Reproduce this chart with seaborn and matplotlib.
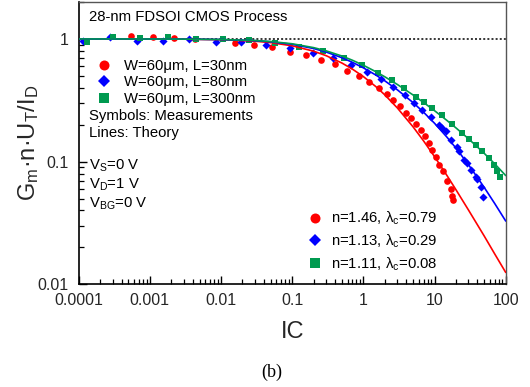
import numpy as np
import pandas as pd
import matplotlib
matplotlib.use("Agg")
import matplotlib.pyplot as plt
from matplotlib.lines import Line2D
from matplotlib.ticker import FixedLocator, FixedFormatter, LogLocator, NullFormatter
import seaborn as sns

# ---- measured normalized transconductance efficiency vs inversion coefficient ----
red_ic = [5.47e-4, 1.11e-3, 2.20e-3, 4.31e-3, 0.0157, 0.0290, 0.0527, 0.0928, 0.155, 0.256,
          0.398, 0.593, 0.868, 1.20, 1.66, 2.13, 2.64, 3.27, 3.93, 4.62, 5.43, 6.39, 7.27,
          8.36, 9.33, 10.4, 11.6, 13.0, 15.2, 16.9, 17.8, 18.2]
red_gm = [1.064, 1.038, 1.013, 0.994, 0.933, 0.888, 0.852, 0.788, 0.741, 0.674,
          0.622, 0.552, 0.501, 0.446, 0.396, 0.354, 0.318, 0.282, 0.249, 0.226, 0.202, 0.181, 0.163,
          0.141, 0.125, 0.110, 0.094, 0.084, 0.070, 0.060, 0.0525, 0.0487]

blue_ic = [1.16e-4, 2.75e-4, 6.68e-4, 1.55e-3, 3.59e-3, 8.41e-3, 0.0192, 0.0434, 0.0931, 0.194,
           0.379, 0.674, 1.14, 1.78, 2.62, 3.81, 5.14, 6.75, 8.83, 11.6, 12.9, 14.3, 16.9,
           20.5, 22.1, 25.9, 29.0, 32.2, 37.9, 39.1, 44.5, 48.6]
blue_gm = [0.963, 1.032, 0.969, 0.969, 1.000, 0.951, 0.949, 0.899, 0.840, 0.773,
           0.700, 0.615, 0.540, 0.474, 0.406, 0.350, 0.299, 0.264, 0.233, 0.199, 0.187, 0.176, 0.149,
           0.131, 0.121, 0.103, 0.097, 0.086, 0.0755, 0.0719, 0.0619, 0.0518]

green_ic = [1.31e-4, 3.00e-4, 7.27e-4, 1.80e-3, 4.41e-3, 0.0107, 0.0247, 0.0573, 0.125, 0.273,
            0.534, 0.969, 1.62, 2.50, 3.72, 5.43, 7.11, 9.33, 12.9, 17.8, 24.6, 30.5, 37.9,
            47.0, 58.2, 68.5, 75.9, 83.1]
green_gm = [0.951, 1.032, 1.023, 1.032, 1.000, 1.000, 0.978, 0.923, 0.856, 0.791,
            0.695, 0.610, 0.525, 0.459, 0.398, 0.334, 0.305, 0.272, 0.240, 0.203, 0.170, 0.152, 0.137,
            0.123, 0.107, 0.094, 0.084, 0.0746]

# ---- theory curves ----
theory_ic = [0.0001, 0.001, 0.003, 0.01, 0.03, 0.05, 0.1, 0.2, 0.3, 0.5, 0.7, 1, 1.5, 2, 3, 5,
             7, 10, 15, 20, 30, 50, 70, 100]
theory_red = [0.9998, 0.9985, 0.9955, 0.9852, 0.9580, 0.9331, 0.8789, 0.7946, 0.7304, 0.6360,
              0.5680, 0.4933, 0.4084, 0.3502, 0.2740, 0.1919, 0.1478, 0.1098, 0.0768, 0.0590,
              0.0403, 0.0247, 0.0177, 0.0125]
theory_blue = [0.9999, 0.9988, 0.9965, 0.9886, 0.9673, 0.9476, 0.9042, 0.8354, 0.7821, 0.7029,
               0.6452, 0.5813, 0.5074, 0.4556, 0.3850, 0.3025, 0.2530, 0.2054, 0.1579, 0.1289,
               0.0944, 0.0615, 0.0456, 0.0328]
theory_green = [0.9999, 0.9989, 0.9968, 0.9898, 0.9706, 0.9527, 0.9131, 0.8495, 0.7998, 0.7253,
                0.6707, 0.6101, 0.5403, 0.4915, 0.4255, 0.3491, 0.3037, 0.2601, 0.2161, 0.1883,
                0.1536, 0.1167, 0.0960, 0.0770]

device_labels = ["W=60\u03bcm, L=30nm", "W=60\u03bcm, L=80nm", "W=60\u03bcm, L=300nm"]
model_labels = ["n=1.46, \u03bb$_\\mathregular{c}$=0.79",
                "n=1.13, \u03bb$_\\mathregular{c}$=0.29",
                "n=1.11, \u03bb$_\\mathregular{c}$=0.08"]

x_ticks = [1e-4, 1e-3, 1e-2, 1e-1, 1, 10, 100]
x_tick_labels = ["0.0001", "0.001", "0.01", "0.1", "1", "10", "100"]
y_ticks = [0.01, 0.1, 1]
y_tick_labels = ["0.01", "0.1", "1"]

colors = ["#ff0000", "#0000ff", "#009a50"]
markers = ["o", "D", "s"]
sizes = [23, 17, 21]

sns.set_theme(style="white")
plt.rcParams["font.family"] = ["Liberation Sans", "DejaVu Sans"]
plt.rcParams["mathtext.fontset"] = "custom"
plt.rcParams["mathtext.rm"] = "Liberation Sans"
plt.rcParams["mathtext.it"] = "Liberation Sans:italic"
plt.rcParams["mathtext.bf"] = "Liberation Sans:bold"
plt.rcParams["text.color"] = "black"

fig = plt.figure(figsize=(5.30, 3.87), dpi=100)
ax = fig.add_axes([78.7 / 530, 1 - 284.3 / 387, 427 / 530, 282.3 / 387])
ax.set_xscale("log")
ax.set_yscale("log")

ax.axhline(1.0, color="black", lw=1.1, ls=(0, (1.3, 1.4)), zorder=2)

meas = [(red_ic, red_gm), (blue_ic, blue_gm), (green_ic, green_gm)]
for (ic, gm), c, m, s in zip(meas, colors, markers, sizes):
    sns.scatterplot(x=ic, y=gm, color=c, marker=m, s=s, linewidth=0, ax=ax, zorder=3,
                    legend=False)

theory = [theory_red, theory_blue, theory_green]
for vals, c in zip(theory, colors):
    sns.lineplot(x=theory_ic, y=vals, color=c, lw=1.2, ax=ax, zorder=4,
                 estimator=None, sort=False, legend=False)

ax.set_xlim(1e-4, 100)
ax.set_ylim(0.01, 2.0)

ax.xaxis.set_major_locator(FixedLocator(x_ticks))
ax.xaxis.set_major_formatter(FixedFormatter(x_tick_labels))
ax.yaxis.set_major_locator(FixedLocator(y_ticks))
ax.yaxis.set_major_formatter(FixedFormatter(y_tick_labels))
for axis in (ax.xaxis, ax.yaxis):
    axis.set_minor_locator(LogLocator(base=10, subs=np.arange(2, 10)))
    axis.set_minor_formatter(NullFormatter())

ax.tick_params(which="both", direction="in", top=False, right=False, left=True, bottom=True,
               color="black")
ax.tick_params(which="major", length=6, width=1.0, labelsize=11.5)
ax.tick_params(which="minor", length=3.5, width=0.9)
ax.tick_params(axis="y", which="major", pad=7)
ax.tick_params(axis="x", which="major", pad=6)

for side in ("left", "bottom"):
    ax.spines[side].set_color("black")
    ax.spines[side].set_linewidth(1.2)
for side in ("top", "right"):
    ax.spines[side].set_color("#555555")
    ax.spines[side].set_linewidth(1.0)

ax.set_xlabel("IC", fontsize=17)
ax.xaxis.set_label_coords(0.5, -0.13)
ax.set_ylabel(r"G$_\mathregular{m}$·n·U$_\mathregular{T}$/I$_\mathregular{D}$", fontsize=17)
ax.yaxis.set_label_coords(-0.088, 0.5)

fs = 10.7
ax.text(0.024, 0.9338, "28-nm FDSOI CMOS Process", transform=ax.transAxes, fontsize=fs,
        va="baseline", ha="left")
ax.text(0.024, 0.582, "Symbols: Measurements", transform=ax.transAxes, fontsize=fs,
        va="baseline", ha="left")
ax.text(0.024, 0.5208, "Lines: Theory", transform=ax.transAxes, fontsize=fs,
        va="baseline", ha="left")
ax.text(0.024, 0.405, r"V$_\mathregular{S}$=0 V", transform=ax.transAxes, fontsize=fs,
        va="baseline", ha="left")
ax.text(0.024, 0.338, r"V$_\mathregular{D}$=1 V", transform=ax.transAxes, fontsize=fs,
        va="baseline", ha="left")
ax.text(0.024, 0.270, r"V$_\mathregular{BG}$=0 V", transform=ax.transAxes, fontsize=fs,
        va="baseline", ha="left")

legend_ms = [7.2, 6.3, 7.2]
handles = [Line2D([], [], ls="none", marker=m, color=c, markersize=ms, markeredgewidth=0)
           for m, c, ms in zip(markers, colors, legend_ms)]

leg1 = ax.legend(handles, device_labels, loc="upper left", bbox_to_anchor=(0.0419, 0.799),
                 frameon=False, fontsize=fs, borderaxespad=0, borderpad=0, handlelength=1.0,
                 handletextpad=0.87, labelspacing=0.18)
ax.add_artist(leg1)
ax.legend(handles, model_labels, loc="upper left", bbox_to_anchor=(0.536, 0.264),
          frameon=False, fontsize=fs, borderaxespad=0, borderpad=0, handlelength=1.0,
          handletextpad=0.57, labelspacing=0.36)

fig.text(271.7 / 530, 1 - 372.7 / 387, "(b)", family="Liberation Serif", fontsize=13,
         ha="center", va="center")

fig.savefig("out.png", dpi=100, facecolor="white")
